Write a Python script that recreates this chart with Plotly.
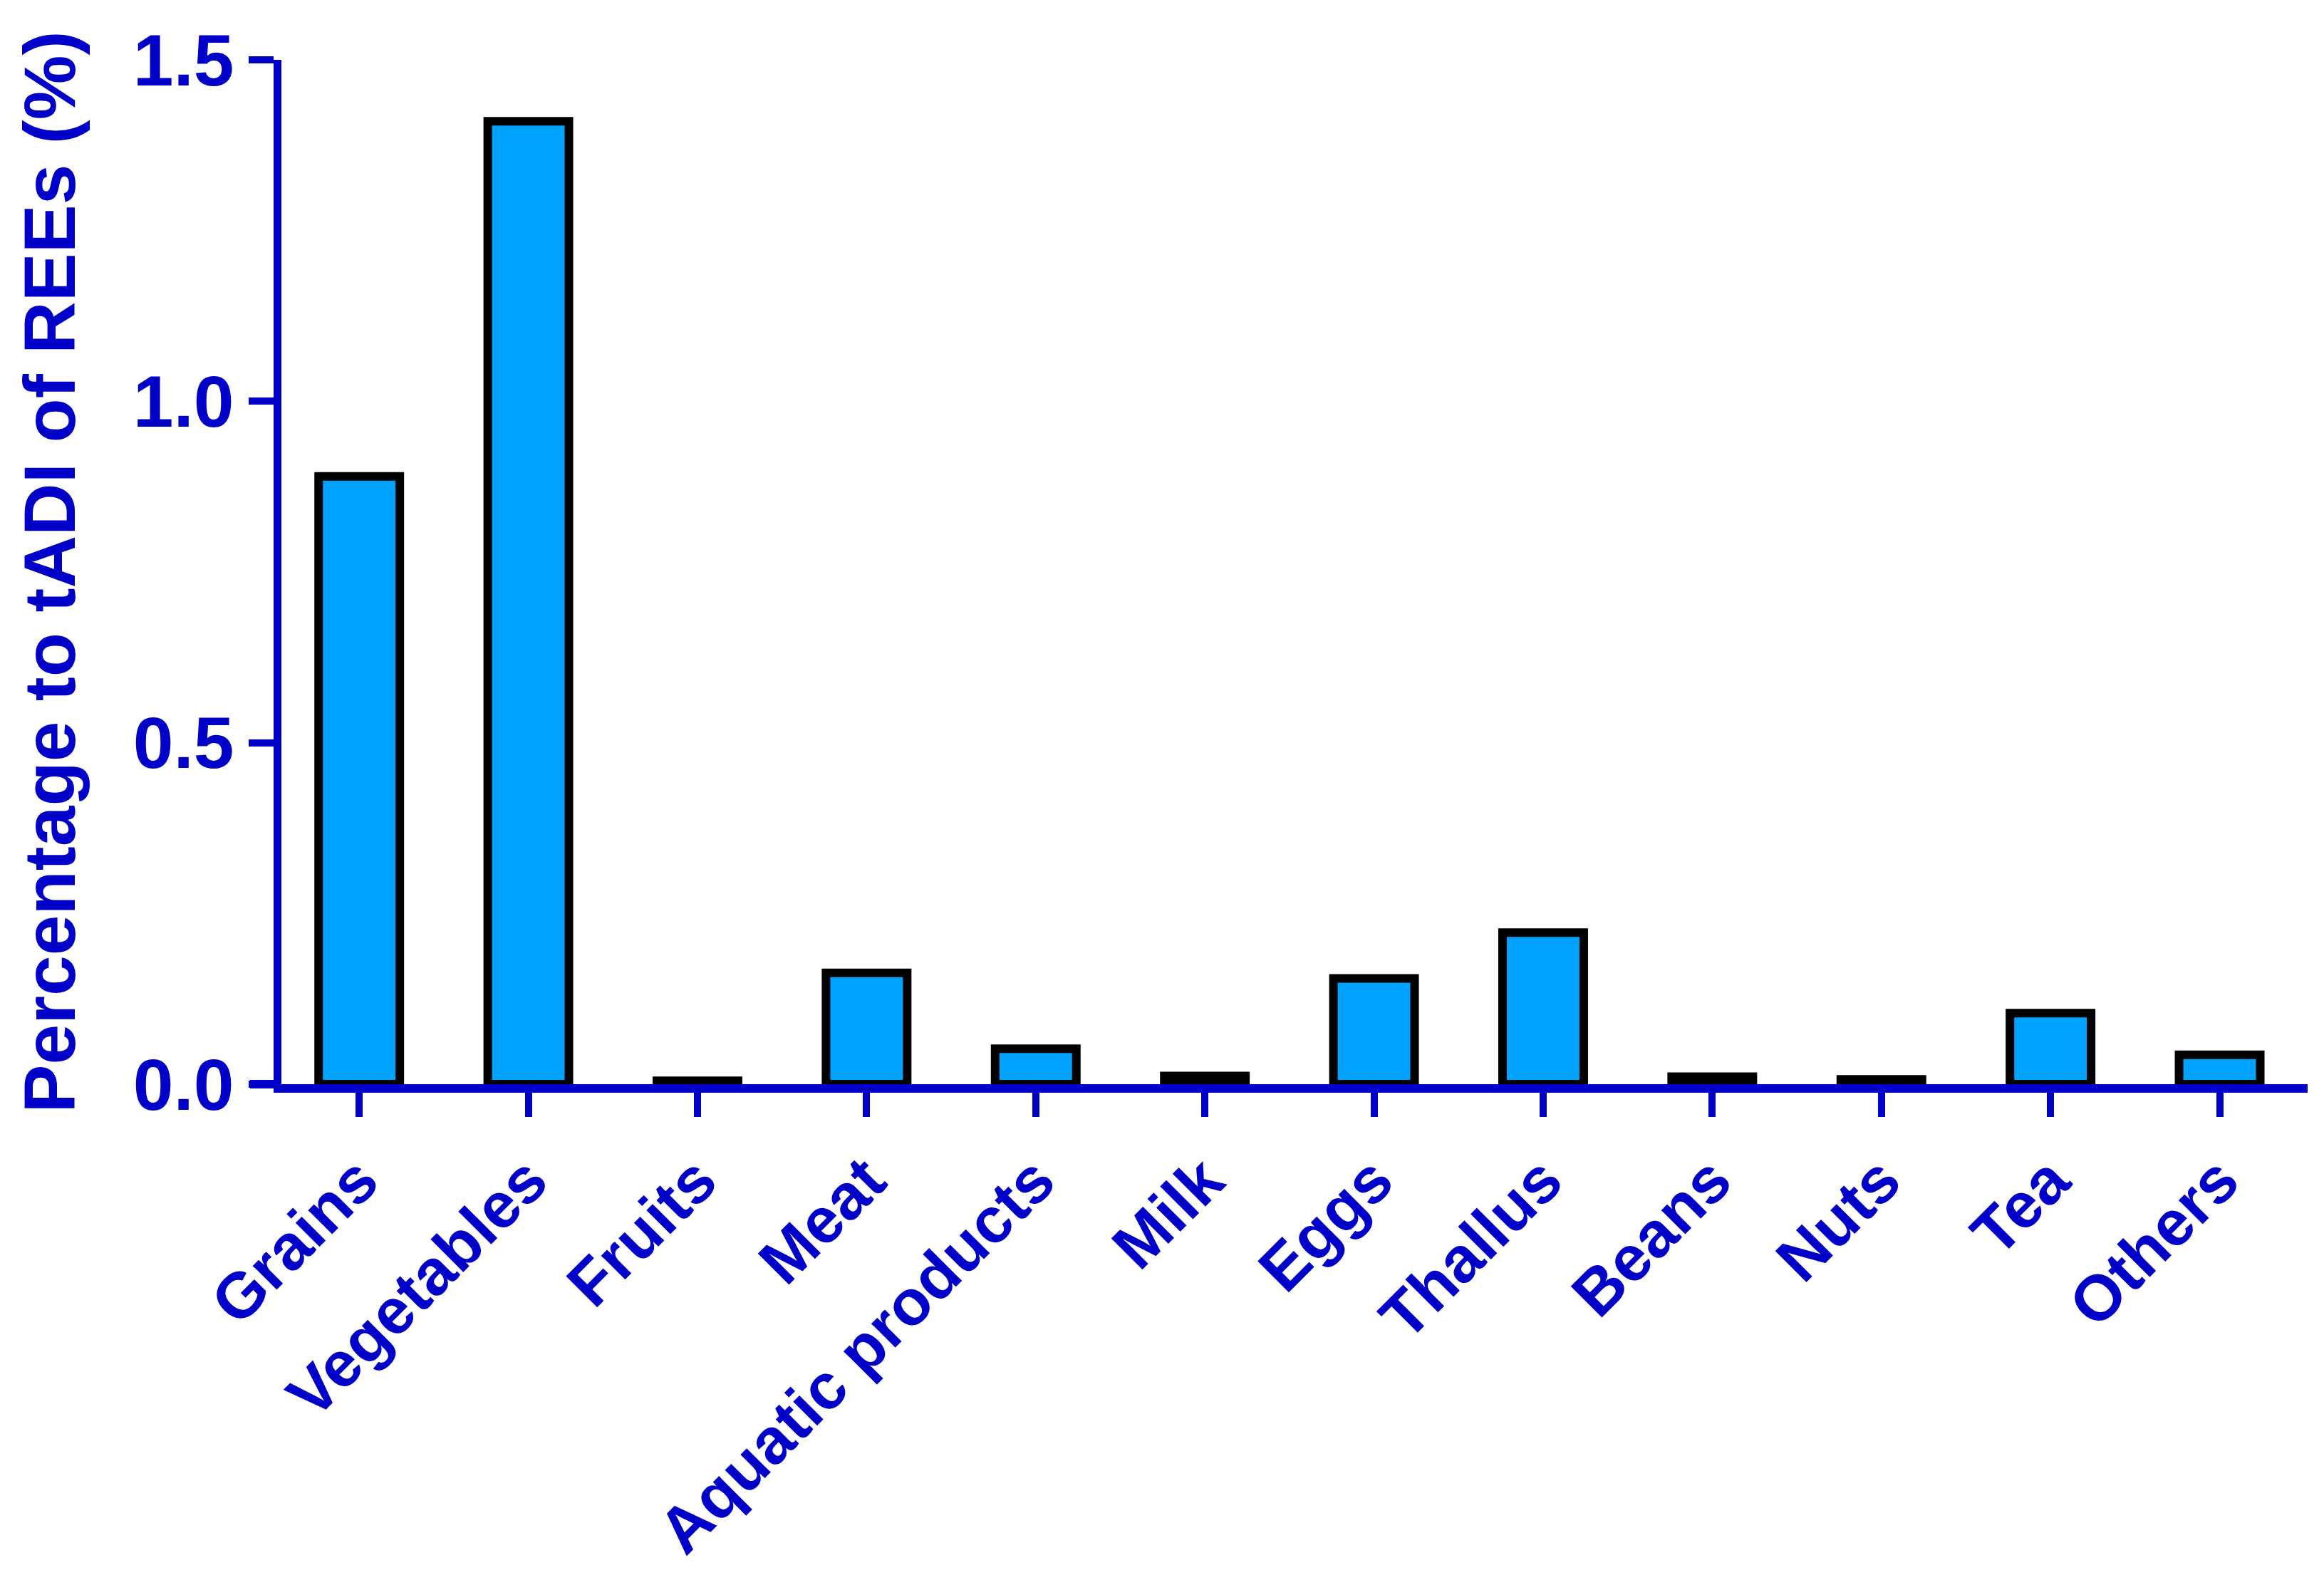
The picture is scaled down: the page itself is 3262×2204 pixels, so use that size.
import plotly.graph_objects as go

categories = ["Grains", "Vegetables", "Fruits", "Meat", "Aquatic products", "Milk",
              "Eggs", "Thallus", "Beans", "Nuts", "Tea", "Others"]
values = [0.89, 1.41, 0.005, 0.163, 0.052, 0.012, 0.155, 0.222, 0.011, 0.007, 0.104, 0.043]
y_ticks = [0.0, 0.5, 1.0, 1.5]
y_title = "Percentage to tADI of REEs (%)"

BLUE = "#0000C8"
FILL = "#00A2FF"
FONT = "Liberation Sans, Arial, sans-serif"

fig = go.Figure()
fig.add_trace(go.Bar(
    x=categories, y=values, width=0.48,
    marker=dict(color=FILL, line=dict(color="black", width=12)),
))

W, H = 3262, 2204
L, R, T, B = 387, 31, 76, 672
fig.update_layout(
    width=W, height=H,
    margin=dict(l=L, r=R, t=T, b=B, pad=0),
    paper_bgcolor="white", plot_bgcolor="white",
    showlegend=False,
    font=dict(family=FONT, color=BLUE),
)
fig.update_xaxes(
    range=[-0.46, 11.52],
    showline=True, linecolor=BLUE, linewidth=12,
    ticks="outside", ticklen=34, tickwidth=10, tickcolor=BLUE,
    tickangle=-45,
    tickfont=dict(size=90, family=FONT, color=BLUE, weight="bold"),
    showgrid=False, zeroline=False,
)
fig.update_yaxes(
    range=[0, 1.5],
    tickvals=y_ticks, tickformat=".1f",
    showline=True, linecolor=BLUE, linewidth=11,
    ticks="outside", ticklen=35, tickwidth=10, tickcolor=BLUE,
    tickfont=dict(size=102, family=FONT, color=BLUE, weight="bold"),
    title=dict(text=y_title, font=dict(size=102, family=FONT, color=BLUE, weight="bold"), standoff=52),
    showgrid=False, zeroline=False,
)
# extend x-axis line slightly to the left of the y-axis, as in the original
fig.add_shape(type="line", xref="paper", yref="paper",
              x0=-44 / (W - L - R), x1=0, y0=0, y1=0,
              line=dict(color=BLUE, width=12))

fig.write_html("out.html")
